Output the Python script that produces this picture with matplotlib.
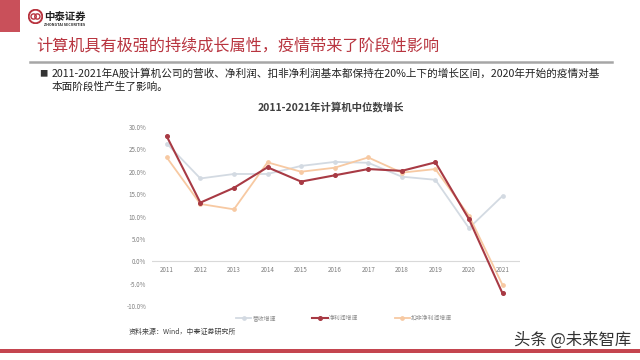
import matplotlib
matplotlib.use("Agg")
import matplotlib.pyplot as plt
import numpy as np
from matplotlib.patches import Rectangle, Circle

plt.rcParams['font.family'] = ['Noto Sans CJK SC', 'DejaVu Sans']

years = ['2011', '2012', '2013', '2014', '2015', '2016', '2017', '2018', '2019', '2020', '2021']
revenue = [26.3, 18.5, 19.5, 19.5, 21.3, 22.2, 22.0, 18.9, 18.2, 7.4, 14.6]
net_profit = [27.9, 13.1, 16.4, 21.0, 17.8, 19.2, 20.6, 20.2, 22.1, 9.4, -7.2]
net_profit_ex = [23.2, 12.8, 11.6, 22.1, 20.0, 20.9, 23.2, 19.8, 20.6, 10.2, -5.3]
series_names = ['营收增速', '净利润增速', '扣非净利润增速']
y_ticks = [-10, -5, 0, 5, 10, 15, 20, 25, 30]

RED = '#b8343f'
W, H = 640, 360

fig = plt.figure(figsize=(6.4, 3.6), dpi=100)
fig.patch.set_facecolor('white')


def fx(px):
    return px / W


def fy(py):
    return 1 - py / H


# header: red strip, logo, title, divider
fig.add_artist(Rectangle((0, fy(32)), fx(20), 32 / H, transform=fig.transFigure,
                         color='#c9505a', lw=0))
logo = fig.add_axes([fx(28), fy(24), fx(15), 15 / H])
logo.set_xlim(-1, 1)
logo.set_ylim(-1, 1)
logo.set_aspect('equal')
logo.axis('off')
logo.add_patch(Circle((0, 0), 0.9, fill=False, ec=RED, lw=1.4))
logo.add_patch(Circle((-0.25, 0), 0.35, fill=False, ec=RED, lw=1.0))
logo.add_patch(Circle((0.25, 0), 0.35, fill=False, ec=RED, lw=1.0))
fig.text(fx(44), fy(16.5), '中泰证券', fontsize=7.5, fontweight='bold', color='#222222',
         va='center', ha='left')
fig.text(fx(44), fy(25.5), 'ZHONGTAI SECURITIES', fontsize=2.6, fontweight='bold',
         color='#222222', va='center', ha='left')

fig.text(fx(36), fy(46), '计算机具有极强的持续成长属性，疫情带来了阶段性影响', fontsize=11.6,
         color=RED, va='center', ha='left')
fig.add_artist(plt.Line2D([fx(30), fx(612)], [fy(61.5), fy(61.5)], transform=fig.transFigure,
                          color='#a6a6a6', lw=1.8))

fig.text(fx(39), fy(73.5), '■', fontsize=6, color='#333333', va='center', ha='left')
fig.text(fx(52), fy(73.5),
         '2011-2021年A股计算机公司的营收、净利润、扣非净利润基本都保持在20%上下的增长区间，2020年开始的疫情对基',
         fontsize=7.65, color='#222222', va='center', ha='left')
fig.text(fx(52), fy(86.5), '本面阶段性产生了影响。', fontsize=7.65, color='#222222',
         va='center', ha='left')

fig.text(fx(331), fy(107.5), '2011-2021年计算机中位数增长', fontsize=7.5, fontweight='bold',
         color='#404040', va='center', ha='center')

# chart
ax = fig.add_axes([fx(152), fy(306), fx(368), (306 - 127) / H])
x = np.arange(len(years))
ax.plot(x, revenue, color='#d3dae2', lw=1.3, marker='o', ms=2.4, label=series_names[0], zorder=2)
ax.plot(x, net_profit, color='#a83a44', lw=1.5, marker='o', ms=2.6, label=series_names[1], zorder=4)
ax.plot(x, net_profit_ex, color='#f7c9a2', lw=1.3, marker='o', ms=2.4, label=series_names[2], zorder=3)

ax.set_xlim(-0.44, 10.52)
ax.set_ylim(-10, 30)
ax.set_yticks(y_ticks)
ax.set_yticklabels([f'{v:.1f}%' for v in y_ticks])
ax.set_xticks(x)
ax.set_xticklabels([])
ax.tick_params(axis='both', length=0, labelsize=4.5, colors='#7f7f7f')
ax.tick_params(axis='y', pad=4)
for s in ax.spines.values():
    s.set_visible(False)
ax.axhline(0, color='#d9d9d9', lw=0.8, zorder=1)
ax.set_facecolor('none')

# x labels sit just under the zero line
for xi, yr in zip(x, years):
    ax.annotate(yr, (xi, 0), xytext=(0, -6), textcoords='offset points', ha='center',
                va='center', fontsize=4.5, color='#7f7f7f')

leg = fig.legend(*ax.get_legend_handles_labels(), loc='center', ncol=3,
                 bbox_to_anchor=(fx(344), fy(318)), frameon=False, fontsize=4.2,
                 handlelength=2.6, columnspacing=6.3, handletextpad=0.15)
for t in leg.get_texts():
    t.set_color('#8c8c8c')

fig.text(fx(129), fy(332), '资料来源：Wind，中泰证券研究所', fontsize=5, color='#404040',
         va='center', ha='left')

# footer
fig.add_artist(Rectangle((0, fy(353)), 1, 4 / H, transform=fig.transFigure,
                         color='#c4454f', lw=0))
fig.text(fx(514), fy(340), '头条 @未来智库', fontsize=11.8, color='#333333',
         va='center', ha='left')

fig.savefig('out.png', dpi=100, facecolor='white')
